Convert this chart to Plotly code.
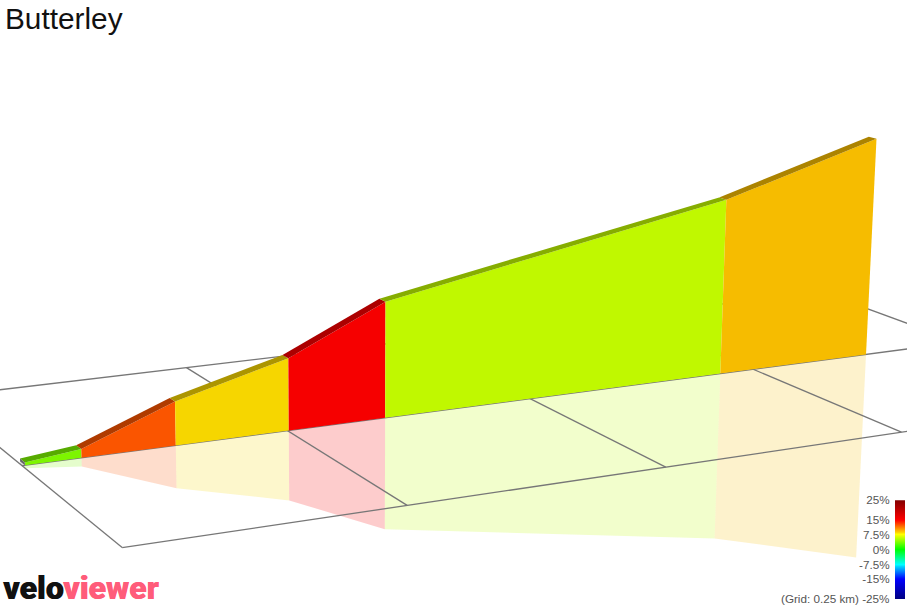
import numpy as np
import plotly.graph_objects as go

# Climb profile
distance_km = [0.0025, 0.0540, 0.1420, 0.2513, 0.3480, 0.7118, 0.8848]
elevation_m = [0.9, 2.8, 14.0, 23.4, 38.0, 59.9, 76.0]
segment_colors = ['#7df500', '#fa5500', '#f6d600', '#f60000', '#c0f800', '#f6bc00']
road_near_km = 0.25
road_far_km = 0.2632
reflection_depth = 0.98

# Ground grid
grid_step_km = 0.25
grid_cols = 4
grid_rows = 2

# Colour key
key_values = [-25, -15, -7.5, 0, 7.5, 15, 25]
key_colors = ['#000080', '#0000ff', '#00ffff', '#00ff00', '#ffff00', '#ff0000', '#800000']
tick_values = [-15, -7.5, 0, 7.5, 15, 25]
tick_labels = ['-15%', '-7.5%', '0%', '7.5%', '15%', '25%']

# Perspective view of (km along, km across, m up) onto the picture
VIEW = np.array([[1222.94, -391.61, -0.11841, 122.184],
                 [-67.917, -151.539, -3.7103, 546.929],
                 [0.204, 0.388, -0.000336, 1.0]])


def view(along, across, up):
    p = VIEW @ np.array([along, across, up, 1.0])
    return p[0] / p[2], p[1] / p[2]


def polygon(points, color, name):
    xy = [view(*q) for q in points]
    return go.Scatter(x=[a for a, _ in xy], y=[b for _, b in xy], fill='toself', mode='lines',
                      line=dict(width=0), fillcolor=color, hoverinfo='skip', name=name)


def rgb(hexcolor):
    return [int(hexcolor[i:i + 2], 16) for i in (1, 3, 5)]


def shade(hexcolor, f):
    return 'rgb(%d,%d,%d)' % tuple(c * f for c in rgb(hexcolor))


def tint(hexcolor, a):
    return 'rgba(%d,%d,%d,%g)' % (*rgb(hexcolor), a)


fig = go.Figure()
off = road_near_km
back = road_far_km
rd = reflection_depth

# Reflection under the ground
for i, c in enumerate(segment_colors):
    d0, d1, e0, e1 = distance_km[i], distance_km[i + 1], elevation_m[i], elevation_m[i + 1]
    fig.add_trace(polygon([(d0, off, 0), (d1, off, 0), (d1, off, -e1 * rd), (d0, off, -e0 * rd)], tint(c, 0.2), 'reflection'))

# Grid
for k in range(grid_cols + 1):
    xy = [view(k * grid_step_km, 0, 0), view(k * grid_step_km, grid_rows * grid_step_km, 0)]
    fig.add_trace(go.Scatter(x=[a for a, _ in xy], y=[b for _, b in xy], mode='lines',
                             line=dict(color='#777777', width=1.3), hoverinfo='skip'))
for k in range(grid_rows + 1):
    xy = [view(0, k * grid_step_km, 0), view(grid_cols * grid_step_km, k * grid_step_km, 0)]
    fig.add_trace(go.Scatter(x=[a for a, _ in xy], y=[b for _, b in xy], mode='lines',
                             line=dict(color='#777777', width=1.3), hoverinfo='skip'))

# Wall and road surface
for i, c in enumerate(segment_colors):
    d0, d1, e0, e1 = distance_km[i], distance_km[i + 1], elevation_m[i], elevation_m[i + 1]
    fig.add_trace(polygon([(d0, off, 0), (d1, off, 0), (d1, off, e1), (d0, off, e0)], c, 'wall'))
    fig.add_trace(polygon([(d0, off, e0), (d1, off, e1), (d1, back, e1), (d0, back, e0)], shade(c, 0.7), 'road'))
d0, e0 = distance_km[0], elevation_m[0]
fig.add_trace(polygon([(d0, off, 0), (d0, back, 0), (d0, back, e0), (d0, off, e0)], '#666666', 'start'))
fig.add_trace(polygon([(d0, off, 0), (d0, back, 0), (d0, back, -e0), (d0, off, -e0)], 'rgba(102,102,102,0.2)', 'start reflection'))

# Colour key
levels = np.arange(-25, 25.25, 0.25)
lo, hi = key_values[0], key_values[-1]
fig.add_trace(go.Heatmap(x=[0], y=levels, z=[[v] for v in levels], xaxis='x2', yaxis='y2', showscale=False,
                         zmin=lo, zmax=hi, hoverinfo='skip',
                         colorscale=[[(v - lo) / (hi - lo), c] for v, c in zip(key_values, key_colors)]))

fig.update_layout(
    width=907, height=607, margin=dict(l=0, r=0, t=0, b=0), showlegend=False,
    paper_bgcolor='white', plot_bgcolor='rgba(0,0,0,0)',
    font=dict(family='Liberation Sans'),
    title=dict(text='Butterley', x=5 / 907, xref='paper', xanchor='left', y=1 - 19 / 607, yref='container', yanchor='middle',
               font=dict(family='Liberation Sans', size=29.8, color='#111111')),
    xaxis=dict(visible=False, range=[0, 907], domain=[0, 1]),
    yaxis=dict(visible=False, range=[607, 0], domain=[0, 1]),
    xaxis2=dict(domain=[895 / 907, 905 / 907], anchor='y2', visible=False),
    yaxis2=dict(domain=[8 / 607, 108 / 607], anchor='x2', range=[lo, hi], tickvals=tick_values, ticktext=tick_labels,
                side='left', showgrid=False, zeroline=False, showline=False, ticks='outside', ticklen=2,
                tickcolor='rgba(0,0,0,0)', tickfont=dict(family='Liberation Sans', size=11.7, color='#555555')),
    annotations=[
        dict(text='(Grid: 0.25 km) -25%', x=891 / 907, y=1 - 598.5 / 607, xref='paper', yref='paper', xanchor='right',
             yanchor='middle', showarrow=False, font=dict(family='Liberation Sans', size=11.7, color='#555555')),
        dict(text='velo', x=1 / 907, y=1 - 588 / 607, xref='paper', yref='paper', xanchor='left', yanchor='middle',
             showarrow=False, font=dict(family='Roboto', size=32, weight=900, color='#111111', shadow='0.6px 0 0 #111111')),
        dict(text='viewer', x=61 / 907, y=1 - 588 / 607, xref='paper', yref='paper', xanchor='left', yanchor='middle',
             showarrow=False, font=dict(family='Roboto', size=32, weight=900, color='#ff5c7a', shadow='0.6px 0 0 #ff5c7a')),
    ])
fig.write_html("out.html", config={'displayModeBar': False},
               post_script="document.body.style.margin='0';document.body.style.overflow='hidden';")
